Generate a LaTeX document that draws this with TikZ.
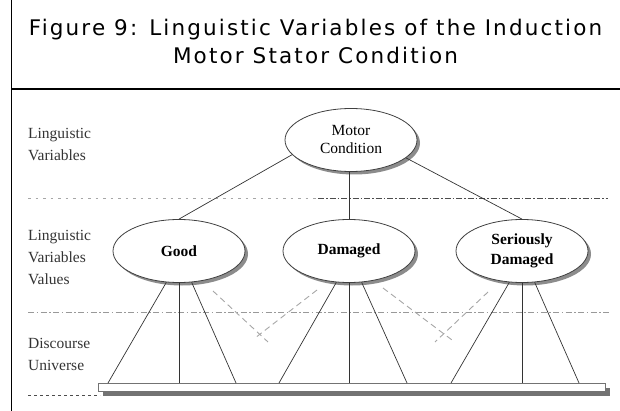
\documentclass[tikz,border=0pt]{standalone}
\usepackage{fontspec}
\setmainfont{Liberation Serif}
\newfontfamily\titlefont[LetterSpace=10]{DejaVu Sans}
\usetikzlibrary{shapes.geometric,shadows}

\begin{document}
\begin{tikzpicture}[x=1pt,y=-1pt,
  level/.style={ellipse, draw=black!75, line width=0.8pt, fill=white,
    minimum width=132pt, minimum height=63pt, inner sep=0pt, align=center,
    font=\fontsize{15.5}{18}\selectfont,
    drop shadow={shadow xshift=3pt, shadow yshift=-3pt, fill=black!45, opacity=1}},
  value/.style={level, font=\fontsize{15.5}{20}\selectfont\bfseries},
  rowlabel/.style={anchor=west, align=left, inner sep=0pt, text=black!80,
    font=\fontsize{15.5}{22}\selectfont},
  heading/.style={anchor=base, inner sep=0pt, font=\titlefont\fontsize{21.5}{28}\selectfont},
  link/.style={draw=black!80, line width=0.7pt},
  memb/.style={draw=black!35, line width=0.9pt, dash pattern=on 6pt off 4pt},
  sepA/.style={draw=black!35, line width=0.9pt, dash pattern=on 2.5pt off 5pt},
  sepB/.style={draw=black!70, line width=0.9pt, dash pattern=on 6pt off 2pt on 1.5pt off 2pt},
  sepC/.style={draw=black!40, line width=0.8pt, dash pattern=on 6pt off 2.5pt on 1.5pt off 2.5pt},
  sepD/.style={draw=black!70, line width=0.8pt, dash pattern=on 3pt off 3pt},
  universe/.style={rectangle, draw=black!55, line width=0.6pt, fill=white,
    minimum width=507pt, minimum height=8pt, inner sep=0pt,
    drop shadow={shadow xshift=5pt, shadow yshift=-5pt, fill=black!55, opacity=1}}]

\useasboundingbox (0,0) rectangle (620,411);

% frame of the figure box
\draw[line width=1.2pt] (11.5,0) -- (11.5,411);
\draw[line width=2pt] (11.5,89) -- (620,89);

% caption
\node[heading] (cap1) at (315.5,36) {Figure 9: Linguistic Variables of the Induction};
\node[heading] (cap2) at (315.5,64) {Motor Stator Condition};

% row separators
\draw[sepA] (28,198) -- (318,198);
\draw[sepB] (318,198) -- (608,198);
\draw[sepC] (28,312) -- (610,312);
\draw[sepD] (28,395) -- (100,395);

% row labels
\node[rowlabel] (r1) at (28,144) {Linguistic\\Variables};
\node[rowlabel] (r2) at (28,257) {Linguistic\\Variables\\Values};
\node[rowlabel] (r3) at (28,354) {Discourse\\Universe};

% discourse universe bar
\node[universe] (base) at (351.5,387) {};

% variable and its values
\node[level] (motor) at (351,140) {Motor\\Condition};
\node[value] (good) at (179,251) {Good};
\node[value] (dam) at (349,251) {Damaged};
\node[value] (ser) at (522,251) {Seriously\\Damaged};

% tree links
\draw[link] (motor.194) -- (good.north);
\draw[link] (dam.north) -- (dam.north |- motor.south);
\draw[link] (motor.-18) -- (ser.north);

% feet of the membership triangles on the universe bar
\coordinate (g1) at (108,383);
\coordinate (g2) at (179,383);
\coordinate (g3) at (236,383);
\coordinate (d1) at (279,383);
\coordinate (d2) at (349,383);
\coordinate (d3) at (407,383);
\coordinate (s1) at (451,383);
\coordinate (s2) at (522,383);
\coordinate (s3) at (579,383);

\foreach \n/\f in {good/g, dam/d, ser/s}{
  \draw[link] (\n.-112) -- (\f1);
  \draw[link] (\n.south) -- (\f2);
  \draw[link] (\n.-68) -- (\f3);
}

% overlapping membership edges
\coordinate (gm0) at (213,291);
\coordinate (gm1) at (268,342);
\coordinate (dm0) at (317,290);
\coordinate (dm1) at (255,338);
\coordinate (dm2) at (383,288);
\coordinate (dm3) at (452,340);
\coordinate (sm0) at (488,292);
\coordinate (sm1) at (435,342);
\draw[memb] (gm0) -- (gm1);
\draw[memb] (dm0) -- (dm1);
\draw[memb] (dm2) -- (dm3);
\draw[memb] (sm0) -- (sm1);

\end{tikzpicture}
\end{document}
